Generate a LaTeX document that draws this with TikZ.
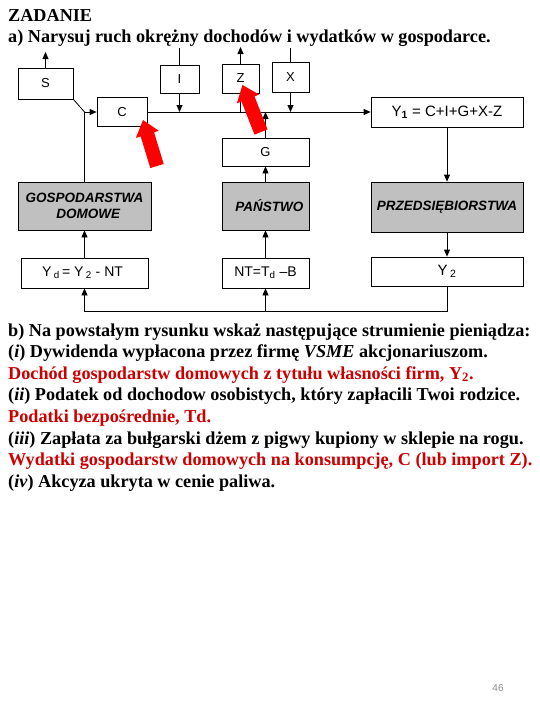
\documentclass[tikz,border=0pt]{standalone}
\usepackage{fontspec}
\setmainfont{Liberation Serif}
\newfontfamily\arialf{Liberation Sans}
\usetikzlibrary{arrows.meta,calc}
\definecolor{ansred}{RGB}{204,0,0}
\definecolor{boxgray}{RGB}{192,192,192}
\definecolor{pagegray}{RGB}{140,140,140}
\newcommand\redarrow[3]{% tip, tail, name
  \coordinate (#3h) at ($(#1)!15pt!(#2)$);
  \fill[red] (#1) -- ($(#3h)!12pt!90:(#2)$) -- ($(#3h)!7pt!90:(#2)$) -- ($(#2)!7pt!-90:(#3h)$)
    -- ($(#2)!7pt!90:(#3h)$) -- ($(#3h)!7pt!-90:(#2)$) -- ($(#3h)!12pt!-90:(#2)$) -- cycle;}
\tikzset{
  bx/.style={draw, line width=0.8pt, inner sep=0pt, font=\arialf\fontsize{13}{15}\selectfont},
  gbx/.style={bx, fill=boxgray, font=\arialf\bfseries\itshape\fontsize{13.5}{16}\selectfont},
  arr/.style={line width=0.8pt, -{Triangle[length=7pt,width=6pt]}},
  ln/.style={line width=0.8pt},
  txt/.style={anchor=base west, inner sep=0pt, font=\bfseries\fontsize{18.2}{21}\selectfont},
}
\begin{document}
\begin{tikzpicture}[x=1pt,y=-1pt]
\useasboundingbox (0,0) rectangle (540,720);
\fill[white] (0,0) rectangle (540,720);

% title
\node[txt] (t0) at (8,21) {ZADANIE};
\node[txt] (t1) at (8,42) {a) Narysuj ruch okrężny dochodów i wydatków w gospodarce.};

% boxes
\node[bx, minimum width=55pt, minimum height=31pt] (S) at (45.5,83.5) {S};
\node[bx, minimum width=50pt, minimum height=29pt] (C) at (122,112) {C};
\node[bx, minimum width=39pt, minimum height=28pt] (I) at (179.5,79) {I};
\node[bx, minimum width=37pt, minimum height=29pt] (Z) at (240.5,78.5) {Z};
\node[bx, minimum width=37pt, minimum height=30pt] (X) at (290.5,77) {X};
\node[bx, minimum width=152pt, minimum height=30pt, font=\arialf\fontsize{15}{17}\selectfont] (Y1) at (447,112) {Y\textsubscript{\bfseries 1} = C+I+G+X-Z};
\node[bx, minimum width=87pt, minimum height=28pt] (G) at (265.5,152) {G};
\node[gbx, minimum width=133pt, minimum height=48pt, align=center] (GD) at (84.5,206) {GOSPODARSTWA\\\ \ DOMOWE};
\node[gbx, minimum width=87pt, minimum height=48pt] (P) at (265.5,206) {\ \ PAŃSTWO};
\node[gbx, minimum width=152pt, minimum height=50pt] (PR) at (447,207) {PRZEDSIĘBIORSTWA};
\node[bx, minimum width=127pt, minimum height=30pt, font=\arialf\fontsize{14}{16}\selectfont] (Yd) at (84.5,273) {Y\,\textsubscript{d}\,= Y\,\textsubscript{2} - NT\ \ };
\node[bx, minimum width=87pt, minimum height=30pt, font=\arialf\fontsize{14}{16}\selectfont] (NT) at (265.5,273) {NT=T\textsubscript{d} –B\ };
\node[bx, minimum width=152pt, minimum height=29pt, font=\arialf\fontsize{15}{17}\selectfont] (Y2) at (447,271.5) {Y\,\textsubscript{2}};

% free ends
\coordinate (Sout) at (45.5,52);
\coordinate (Iin) at (179.5,48);
\coordinate (Zout) at (240.5,47);
\coordinate (Xin) at (290.5,48);
\coordinate (J) at (84.5,112);
\coordinate (B1) at (447,311);
\coordinate (B2) at (84.5,311);

% connectors
\draw[arr] (S.north) -- (Sout);
\draw[ln] (Iin) -- (I.north);
\draw[arr] (I.south) -- (I.south |- Y1.west);
\draw[arr] (C.east) -- (Y1.west);
\draw[ln] (Z.south |- Y1.west) -- (Z.south);
\draw[arr] (Z.north) -- (Zout);
\draw[ln] (Xin) -- (X.north);
\draw[arr] (X.south) -- (X.south |- Y1.west);
\draw[arr] (G.north) -- (G.north |- Y1.west);
\draw[arr] (P.north) -- (G.south);
\draw[arr] (NT.north) -- (P.south);
\draw[arr] (Y1.south) -- (PR.north);
\draw[arr] (PR.south) -- (Y2.north);
\draw[arr] (Y2.south) -- (B1) -- (B2) -- (Yd.south);
\draw[arr] (NT.south |- B1) -- (NT.south);
\draw[arr] (Yd.north) -- (GD.south);
\draw[arr] (GD.north) -- (J) -- (C.west);
\draw[ln] (J) -- (S.south east);

% red pointers
\coordinate (rt1) at (143,120);
\coordinate (rb1) at (157,166);
\coordinate (rt2) at (242.5,85);
\coordinate (rb2) at (261,132);
\redarrow{rt1}{rb1}{ra}
\redarrow{rt2}{rb2}{rb}

% part b
\node[txt] (b0) at (8,336) {b) Na powstałym rysunku wskaż następujące strumienie pieniądza:};
\node[txt] (b1) at (8,357.6) {(\textit{i}) Dywidenda wypłacona przez firmę \textit{VSME} akcjonariuszom.};
\node[txt, text=ansred] (b2) at (8,379.2) {Dochód gospodarstw domowych z tytułu własności firm, Y\textsubscript{2}.};
\node[txt] (b3) at (8,400.8) {(\textit{ii}) Podatek od dochodow osobistych, który zapłacili Twoi rodzice.};
\node[txt, text=ansred] (b4) at (8,422.4) {Podatki bezpośrednie, Td.};
\node[txt] (b5) at (8,444) {(\textit{iii}) Zapłata za bułgarski dżem z pigwy kupiony w sklepie na rogu.};
\node[txt, text=ansred] (b6) at (8,465.6) {Wydatki gospodarstw domowych na konsumpcję, C (lub import Z).};
\node[txt] (b7) at (8,487.2) {(\textit{iv}) Akcyza ukryta w cenie paliwa.};

\node[font=\arialf\fontsize{10}{12}\selectfont, text=pagegray, inner sep=0pt] (pg) at (498,688) {46};
\end{tikzpicture}
\end{document}
